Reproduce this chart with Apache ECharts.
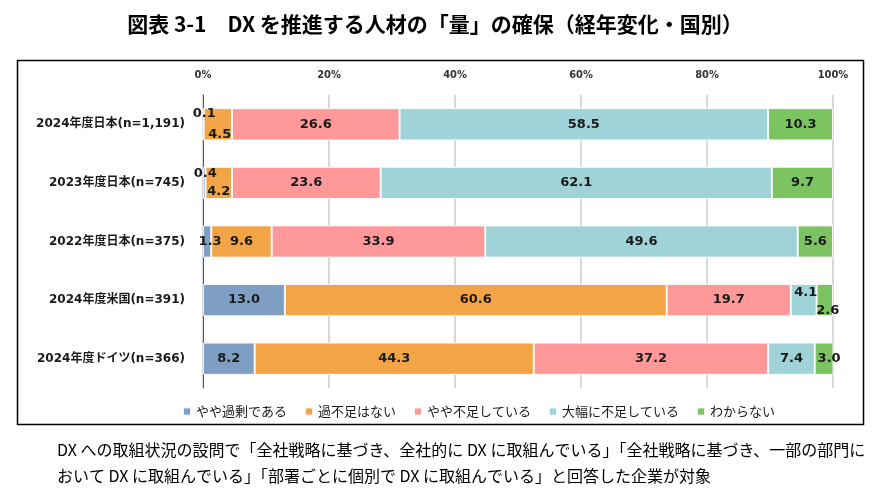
<!DOCTYPE html>
<html><head><meta charset="utf-8">
<script src="https://cdn.jsdelivr.net/npm/echarts@6/dist/echarts.min.js"></script>
<style>html,body{margin:0;padding:0;background:#fff}#c{width:886px;height:502px}</style>
</head><body><div id="c"></div>
<script>
const categories = ['2024年度日本(n=1,191)','2023年度日本(n=745)','2022年度日本(n=375)','2024年度米国(n=391)','2024年度ドイツ(n=366)'];
const seriesNames = ['やや過剰である','過不足はない','やや不足している','大幅に不足している','わからない'];
const overStaffed = [0.1, 0.4, 1.3, 13.0, 8.2];
const balanced = [4.5, 4.2, 9.6, 60.6, 44.3];
const slightlyShort = [26.6, 23.6, 33.9, 19.7, 37.2];
const veryShort = [58.5, 62.1, 49.6, 4.1, 7.4];
const unknown = [10.3, 9.7, 5.6, 2.6, 3.0];
const tickValues = [0, 20, 40, 60, 80, 100];

const colors = ['#7f9ec4','#f2a447','#ff9999','#9fd3d8','#7cc462'];
const values = [overStaffed, balanced, slightlyShort, veryShort, unknown];
// label offset overrides for narrow segments [series]-[category] = [dx, dy]
const labelOffsets = {
  '0-0':[1,-11], '1-0':[2,10],
  '0-1':[1,-9], '1-1':[0,9],
  '0-2':[3,0],
  '3-3':[2,-7], '4-3':[3,11],
  '4-4':[5,0]
};
const labelFont = {fontFamily:'DejaVu Sans, Verdana, sans-serif', fontWeight:'bold', fontSize:13, color:'#1a1a1a'};

const series = seriesNames.map((name, si) => ({
  name, type:'bar', stack:'total', barWidth:'55%',
  itemStyle:{color:colors[si], borderColor:'rgba(255,255,255,0.85)', borderWidth:1},
  label:Object.assign({show:true, position:'inside', formatter:p=>p.value.toFixed(1)}, labelFont),
  emphasis:{disabled:true},
  data: values[si].map((v, ci) => {
    const o = labelOffsets[si+'-'+ci];
    return o ? {value:v, label:{offset:o}} : v;
  })
}));

const chart = echarts.init(document.getElementById('c'));
chart.setOption({
  animation:false,
  color:colors,
  grid:{left:203, right:53, top:95, bottom:114},
  xAxis:{type:'value', min:0, max:100, interval:20, position:'top',
    axisLine:{show:false}, axisTick:{show:false},
    axisLabel:{formatter:v=>tickValues.includes(v)?v+'%':'', margin:14, fontSize:11, fontWeight:'bold', color:'#333', fontFamily:'Liberation Sans Narrow, DejaVu Sans Condensed, sans-serif'},
    splitLine:{lineStyle:{color:'#d9d9d9', width:2}}},
  yAxis:{type:'category', data:categories, inverse:true,
    axisLine:{lineStyle:{color:'#595959', width:1}}, axisTick:{show:false},
    axisLabel:{margin:18, fontSize:12, fontWeight:'bold', color:'#1a1a1a', fontFamily:'DejaVu Sans, Noto Sans CJK JP, sans-serif'}},
  legend:{left:177, top:400, icon:'rect', itemWidth:8, itemHeight:8, itemGap:17,
    textStyle:{fontSize:13, color:'#1a1a1a', fontFamily:'Noto Sans CJK JP, sans-serif'}, data:seriesNames},
  series,
  graphic:[
    {type:'rect', shape:{x:17.5, y:60.5, width:846, height:364}, style:{fill:'none', stroke:'#000', lineWidth:1.5}, silent:true},
    {type:'text', x:435, y:14, style:{text:'図表 3-1　DX を推進する人材の「量」の確保（経年変化・国別）', align:'center', fontSize:21, fontWeight:'bold', fill:'#000', fontFamily:'Noto Sans CJK JP, sans-serif'}},
    {type:'text', left:57, top:442, style:{text:'DX への取組状況の設問で「全社戦略に基づき、全社的に DX に取組んでいる」「全社戦略に基づき、一部の部門に', fontSize:16, fill:'#000', fontFamily:'Noto Sans CJK JP, sans-serif'}},
    {type:'text', left:57, top:468, style:{text:'おいて DX に取組んでいる」「部署ごとに個別で DX に取組んでいる」と回答した企業が対象', fontSize:16, fill:'#000', fontFamily:'Noto Sans CJK JP, sans-serif'}}
  ]
});
</script></body></html>
